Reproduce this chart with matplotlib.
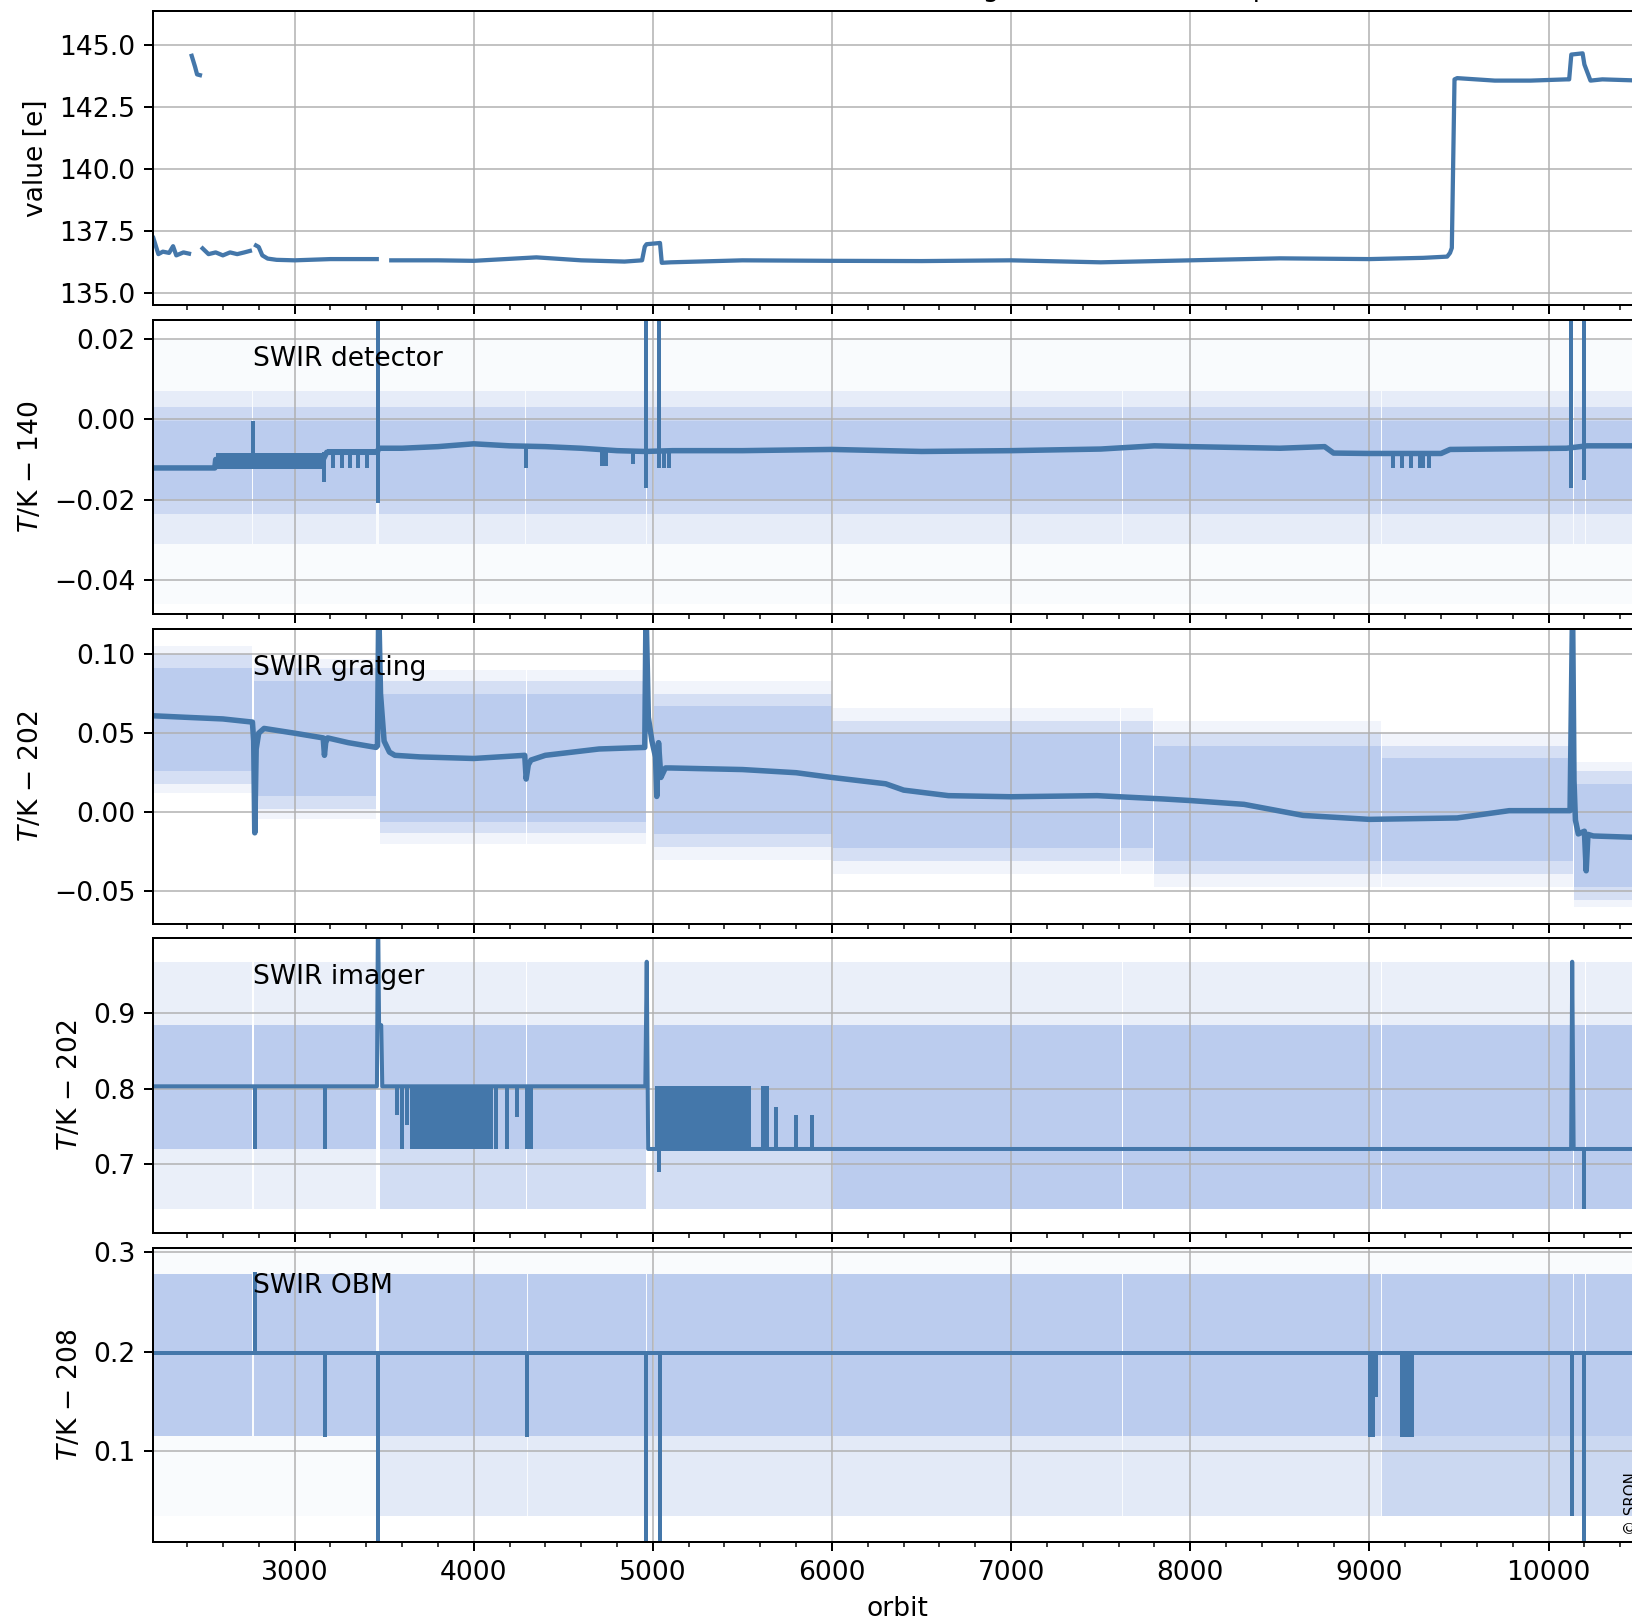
import numpy as np
import matplotlib.pyplot as plt
import matplotlib.transforms as mtransforms
from matplotlib.ticker import MultipleLocator

plt.switch_backend('agg')
plt.rcParams['font.size'] = 10.6

line_color = '#4477AA'
band_color = '#BBCCEE'
nan = np.nan

xlim = (2210, 10516)

# ---- top panel: dark signal per orbit (nan = no data)
dark_orbit = [2212, 2240, 2265, 2300, 2322, 2340, 2380, 2411, nan,
              2426, 2445, 2456, 2472, nan,
              2487, 2520, 2560, 2600, 2640, 2680, 2720, 2751, nan,
              2785, 2800, 2820, 2850, 2900, 3000, 3200, 3459, nan,
              3540, 3800, 4000, 4350, 4600, 4842, 4940, 4955, 4965, 5040, 5050, 5100, 5500,
              6000, 6500, 7000, 7500, 8000, 8500, 9000, 9300, 9434, 9450, 9460, 9475,
              9490, 9700, 9900, 10100, 10115, 10127, 10190, 10200, 10234, 10300, 10516]
dark_value = [137.2, 136.55, 136.65, 136.6, 136.87, 136.5, 136.62, 136.57, nan,
              144.55, 144.1, 143.8, 143.77, nan,
              136.78, 136.55, 136.62, 136.5, 136.62, 136.55, 136.62, 136.68, nan,
              136.9, 136.84, 136.5, 136.37, 136.32, 136.3, 136.35, 136.35, nan,
              136.3, 136.3, 136.28, 136.42, 136.3, 136.25, 136.3, 136.85, 136.95, 137.0, 136.2, 136.22, 136.3,
              136.28, 136.27, 136.3, 136.22, 136.3, 136.38, 136.35, 136.4, 136.45, 136.6, 136.8, 143.6,
              143.65, 143.55, 143.55, 143.6, 143.6, 144.6, 144.65, 144.2, 143.55, 143.6, 143.55]

# ---- SWIR detector (T/K - 140)
det_orbit = [2210, 2555, 2560, 3160, 3180, 3462, 3470, 3600, 3800, 4000, 4200, 4400, 4600, 4800, 4955, 5110,
             5500, 6000, 6500, 7000, 7500, 7800, 8000, 8500, 8750, 8800, 9000, 9400, 9450, 10100, 10215, 10516]
det_temp = [-0.0121, -0.0121, -0.0100, -0.0100, -0.0082, -0.0082, -0.0072, -0.0072, -0.0068, -0.0061, -0.0066,
            -0.0068, -0.0072, -0.0078, -0.0080, -0.0078, -0.0078, -0.0075, -0.0080, -0.0078, -0.0074, -0.0066,
            -0.0068, -0.0072, -0.0068, -0.0084, -0.0085, -0.0085, -0.0075, -0.0072, -0.0066, -0.0066]
det_blk_start = [2560, 3180]
det_blk_end = [3160, 3462]
det_blk_lo = [-0.0124, -0.0088]
det_blk_hi = [-0.0084, -0.0074]
det_spk_orbit = [2767, 3165, 3217, 3267, 3310, 3356, 3403, 3465, 4291, 4718, 4740, 4889,
                 4962, 5032, 5060, 5090, 9130, 9180, 9230, 9282, 9300, 9330, 10128, 10198]
det_spk_lo = [-0.010, -0.0157, -0.0122, -0.0122, -0.0122, -0.0122, -0.0122, -0.0208, -0.0120, -0.0115, -0.0115, -0.0110,
              -0.0172, -0.0120, -0.0120, -0.0120, -0.0120, -0.0120, -0.0120, -0.0120, -0.0120, -0.0120, -0.0172, -0.0150]
det_spk_hi = [-0.0005, -0.0082, -0.0082, -0.0082, -0.0082, -0.0082, -0.0082, 0.03, -0.0068, -0.0075, -0.0075, -0.0078,
              0.03, 0.03, -0.0078, -0.0078, -0.0085, -0.0085, -0.0085, -0.0085, -0.0085, -0.0085, 0.03, 0.03]
det_seg_start = [2210, 2770, 3470, 4294, 4967, 5008, 6008, 7624, 9072, 10143, 10210]
det_seg_end = [2764, 3456, 4287, 4960, 5002, 6002, 7618, 9064, 10136, 10203, 10516]
det_in_lo = [-0.0198, -0.0198, -0.0198, -0.0198, -0.0198, -0.0198, -0.0198, -0.0198, -0.0198, -0.0198, -0.0198]
det_in_hi = [-0.0005, -0.0005, -0.0005, -0.0005, -0.0005, -0.0005, -0.0005, -0.0005, -0.0005, -0.0005, -0.0005]
det_mid_lo = [-0.0235, -0.0235, -0.0235, -0.0235, -0.0235, -0.0235, -0.0235, -0.0235, -0.0235, -0.0235, -0.0235]
det_mid_hi = [0.003, 0.003, 0.003, 0.003, 0.003, 0.003, 0.003, 0.003, 0.003, 0.003, 0.003]
det_far_lo = [-0.031, -0.031, -0.031, -0.031, -0.031, -0.031, -0.031, -0.031, -0.031, -0.031, -0.031]
det_far_hi = [0.007, 0.007, 0.007, 0.007, 0.007, 0.007, 0.007, 0.007, 0.007, 0.007, 0.007]
det_ext = (-0.046, 0.020)

# ---- SWIR grating (T/K - 202)
gr_orbit = [2210, 2400, 2600, 2765, 2772, 2778, 2786, 2800, 2830, 3000, 3160, 3167, 3174, 3185, 3300,
            3455, 3463, 3470, 3480, 3500, 3530, 3560, 3700, 4000, 4285, 4293, 4305, 4320, 4400, 4700,
            4955, 4962, 4975, 4995, 5015, 5022, 5032, 5045, 5070, 5100, 5500, 5800, 6000, 6300, 6400,
            6650, 7000, 7480, 7850, 8000, 8300, 8630, 9000, 9490, 9780, 10120, 10134, 10142, 10150, 10166,
            10200, 10210, 10220, 10250, 10516]
gr_temp = [0.061, 0.060, 0.059, 0.057, 0.045, -0.013, 0.040, 0.050, 0.053, 0.050, 0.047, 0.036, 0.044, 0.047, 0.044,
           0.041, 0.042, 0.13, 0.075, 0.045, 0.038, 0.036, 0.035, 0.034, 0.036, 0.021, 0.030, 0.033, 0.036, 0.040,
           0.041, 0.13, 0.060, 0.045, 0.035, 0.010, 0.044, 0.022, 0.028, 0.028, 0.027, 0.025, 0.022, 0.018, 0.014,
           0.0105, 0.0098, 0.0105, 0.0084, 0.0074, 0.005, -0.002, -0.0045, -0.0036, 0.001, 0.001, 0.13, 0.02, -0.005, -0.0137,
           -0.012, -0.037, -0.014, -0.015, -0.016]
gr_seg_start = [2210, 2772, 3478, 4300, 5008, 6008, 7614, 7797, 9072, 10143]
gr_seg_end = [2764, 3456, 4293, 4962, 6002, 7607, 7790, 9064, 10136, 10516]
gr_in_lo = [0.026, 0.0105, -0.006, -0.006, -0.014, -0.0228, -0.0228, -0.031, -0.031, -0.047]
gr_in_hi = [0.0915, 0.083, 0.075, 0.075, 0.067, 0.050, 0.050, 0.042, 0.034, 0.018]
gr_mid_lo = [0.018, 0.002, -0.013, -0.013, -0.022, -0.031, -0.031, -0.039, -0.039, -0.0555]
gr_mid_hi = [0.100, 0.091, 0.083, 0.083, 0.075, 0.058, 0.058, 0.050, 0.042, 0.026]
gr_far_lo = [0.012, -0.004, -0.020, -0.020, -0.030, -0.039, -0.039, -0.047, -0.047, -0.060]
gr_far_hi = [0.105, 0.097, 0.090, 0.090, 0.083, 0.066, 0.066, 0.058, 0.050, 0.032]

# ---- SWIR imager (T/K - 202)
im_orbit = [2210, 3460, 3466, 3472, 3484, 3490, 4958, 4966, 4974, 10126, 10132, 10140, 10516]
im_temp = [0.803, 0.803, 1.05, 0.884, 0.884, 0.803, 0.803, 0.968, 0.72, 0.72, 0.968, 0.72, 0.72]
im_blk_start = [3645, 5010]
im_blk_end = [4110, 5550]
im_blk_lo = [0.72, 0.72]
im_blk_hi = [0.803, 0.803]
im_spk_orbit = [2780, 3170, 3571, 3602, 3626, 4125, 4185, 4241, 4297, 4320, 5032, 5615, 5640, 5690, 5800, 5890, 10200]
im_spk_lo = [0.72, 0.72, 0.765, 0.72, 0.752, 0.72, 0.72, 0.762, 0.72, 0.72, 0.69, 0.72, 0.72, 0.72, 0.72, 0.72, 0.64]
im_spk_hi = [0.803, 0.803, 0.803, 0.803, 0.803, 0.803, 0.803, 0.803, 0.803, 0.803, 0.72, 0.803, 0.803, 0.775, 0.765, 0.765, 0.72]
im_seg_start = [2210, 2772, 3478, 4300, 5008, 6008, 7624, 9072, 10143, 10210]
im_seg_end = [2764, 3456, 4293, 4962, 6002, 7618, 9064, 10136, 10203, 10516]
im_in_lo = [0.72, 0.72, 0.72, 0.72, 0.72, 0.64, 0.64, 0.64, 0.64, 0.64]
im_in_hi = [0.884, 0.884, 0.884, 0.884, 0.884, 0.884, 0.884, 0.884, 0.884, 0.884]
im_mid_lo = [0.72, 0.72, 0.64, 0.64, 0.64, 0.64, 0.64, 0.64, 0.64, 0.64]
im_mid_hi = [0.884, 0.884, 0.884, 0.884, 0.884, 0.884, 0.884, 0.884, 0.884, 0.884]
im_far_lo = [0.64, 0.64, 0.64, 0.64, 0.64, 0.64, 0.64, 0.64, 0.64, 0.64]
im_far_hi = [0.968, 0.968, 0.968, 0.968, 0.968, 0.968, 0.968, 0.968, 0.968, 0.968]

# ---- SWIR OBM (T/K - 208)
obm_orbit = [2210, 10516]
obm_temp = [0.199, 0.199]
obm_spk_orbit = [2778, 3170, 3465, 4300, 4960, 5040, 9005, 9020, 9035, 9180, 9200, 9215, 9235, 10130, 10200]
obm_spk_lo = [0.199, 0.115, 0.0, 0.115, 0.0, 0.0, 0.115, 0.115, 0.155, 0.115, 0.115, 0.115, 0.115, 0.035, 0.0]
obm_spk_hi = [0.28, 0.199, 0.199, 0.199, 0.199, 0.199, 0.199, 0.199, 0.199, 0.199, 0.199, 0.199, 0.199, 0.199, 0.199]
obm_seg_start = [2210, 2772, 3470, 4305, 4967, 5008, 6008, 7624, 9072, 10143, 10210]
obm_seg_end = [2764, 3456, 4296, 4960, 5002, 6002, 7618, 9064, 10136, 10203, 10516]
obm_in_lo = [0.116, 0.116, 0.116, 0.116, 0.116, 0.116, 0.116, 0.116, 0.116, 0.116, 0.116]
obm_in_hi = [0.278, 0.278, 0.278, 0.278, 0.278, 0.278, 0.278, 0.278, 0.278, 0.278, 0.278]
obm_mid_lo = [0.116, 0.116, 0.116, 0.116, 0.116, 0.116, 0.116, 0.116, 0.035, 0.035, 0.035]
obm_mid_hi = [0.278, 0.278, 0.278, 0.278, 0.278, 0.278, 0.278, 0.278, 0.278, 0.278, 0.278]
obm_far_lo = [0.116, 0.116, 0.035, 0.035, 0.035, 0.035, 0.035, 0.035, 0.035, 0.035, 0.035]
obm_far_hi = [0.278, 0.278, 0.278, 0.278, 0.278, 0.278, 0.278, 0.278, 0.278, 0.278, 0.278]
obm_ext = (0.035, 0.305)

panel_names = ['SWIR detector', 'SWIR grating', 'SWIR imager', 'SWIR OBM']
panel_ylabels = [r'$T$/K $-$ 140', r'$T$/K $-$ 202', r'$T$/K $-$ 202', r'$T$/K $-$ 208']

W, H, dpi = 1632, 1624, 180
fig = plt.figure(figsize=(W / dpi, H / dpi), dpi=dpi)

left_px, right_px = 153, 1641
tops_px = [10.7, 319.9, 629.1, 938.3, 1247.5]
h_px = 294.5
axes = []
for t in tops_px:
    ax = fig.add_axes([left_px / W, 1 - (t + h_px) / H, (right_px - left_px) / W, h_px / H])
    axes.append(ax)


def draw_bands(ax, s, e, layers):
    for lo, hi, a in layers:
        for x0, x1, l, h in zip(s, e, lo, hi):
            ax.fill_between([x0, x1], l, h, color=band_color, alpha=a, lw=0)


def draw_blocks(ax, s, e, lo, hi):
    for x0, x1, l, h in zip(s, e, lo, hi):
        ax.fill_between([x0, x1], l, h, color=line_color, lw=0, zorder=2)


# top panel
ax = axes[0]
ax.plot(dark_orbit, dark_value, color=line_color, lw=1.7)
ax.set_ylim(134.49, 146.37)
ax.set_ylabel('value [e]')

# detector
ax = axes[1]
ax.fill_between([xlim[0], xlim[1]], det_ext[0], det_ext[1], color=band_color, alpha=0.08, lw=0)
draw_bands(ax, det_seg_start, det_seg_end,
           [(det_far_lo, det_far_hi, 0.3), (det_mid_lo, det_mid_hi, 0.6), (det_in_lo, det_in_hi, 1.0)])
draw_blocks(ax, det_blk_start, det_blk_end, det_blk_lo, det_blk_hi)
ax.plot(det_orbit, det_temp, color=line_color, lw=2.2)
ax.vlines(det_spk_orbit, det_spk_lo, det_spk_hi, color=line_color, lw=1.6)
ax.set_ylim(-0.0485, 0.0247)
ax.set_yticks([-0.04, -0.02, 0.0, 0.02])

# grating
ax = axes[2]
draw_bands(ax, gr_seg_start, gr_seg_end,
           [(gr_far_lo, gr_far_hi, 0.2), (gr_mid_lo, gr_mid_hi, 0.5), (gr_in_lo, gr_in_hi, 1.0)])
ax.plot(gr_orbit, gr_temp, color=line_color, lw=2.2)
ax.set_ylim(-0.0704, 0.1158)
ax.set_yticks([-0.05, 0.0, 0.05, 0.10])

# imager
ax = axes[3]
draw_bands(ax, im_seg_start, im_seg_end,
           [(im_far_lo, im_far_hi, 0.3), (im_mid_lo, im_mid_hi, 0.5), (im_in_lo, im_in_hi, 1.0)])
draw_blocks(ax, im_blk_start, im_blk_end, im_blk_lo, im_blk_hi)
ax.plot(im_orbit, im_temp, color=line_color, lw=1.6)
ax.vlines(im_spk_orbit, im_spk_lo, im_spk_hi, color=line_color, lw=1.6)
ax.set_ylim(0.609, 0.999)
ax.set_yticks([0.7, 0.8, 0.9])

# OBM
ax = axes[4]
ax.fill_between([xlim[0], xlim[1]], obm_ext[0], obm_ext[1], color=band_color, alpha=0.08, lw=0)
draw_bands(ax, obm_seg_start, obm_seg_end,
           [(obm_far_lo, obm_far_hi, 0.35), (obm_mid_lo, obm_mid_hi, 0.6), (obm_in_lo, obm_in_hi, 1.0)])
ax.plot(obm_orbit, obm_temp, color=line_color, lw=1.6)
ax.vlines(obm_spk_orbit, obm_spk_lo, obm_spk_hi, color=line_color, lw=1.6)
ax.set_ylim(0.009, 0.305)
ax.set_yticks([0.1, 0.2, 0.3])
ax.set_xlabel('orbit')

for i, ax in enumerate(axes):
    ax.set_xlim(xlim)
    ax.xaxis.set_major_locator(MultipleLocator(1000))
    ax.xaxis.set_minor_locator(MultipleLocator(200))
    ax.grid(True, lw=0.6)
    if i < 4:
        ax.tick_params(labelbottom=False)
    if i > 0:
        ax.set_ylabel(panel_ylabels[i - 1])
        trans = mtransforms.blended_transform_factory(ax.transData, ax.transAxes)
        ax.text(2766, 0.845, panel_names[i - 1], transform=trans, va='baseline', ha='left')

fig.align_ylabels(axes[3:])

# title sits above the visible canvas, only its descenders show
fig.text(810 / W, 1 + 3.5 / H, 'SWIR trending: dark flux and temperatures', va='baseline', ha='left')
fig.text(1624 / W, 1 - 1535 / H, '\u00a9 SRON', rotation=90, ha='left', va='bottom', fontsize=6)

fig.savefig('out.png', dpi=dpi)
